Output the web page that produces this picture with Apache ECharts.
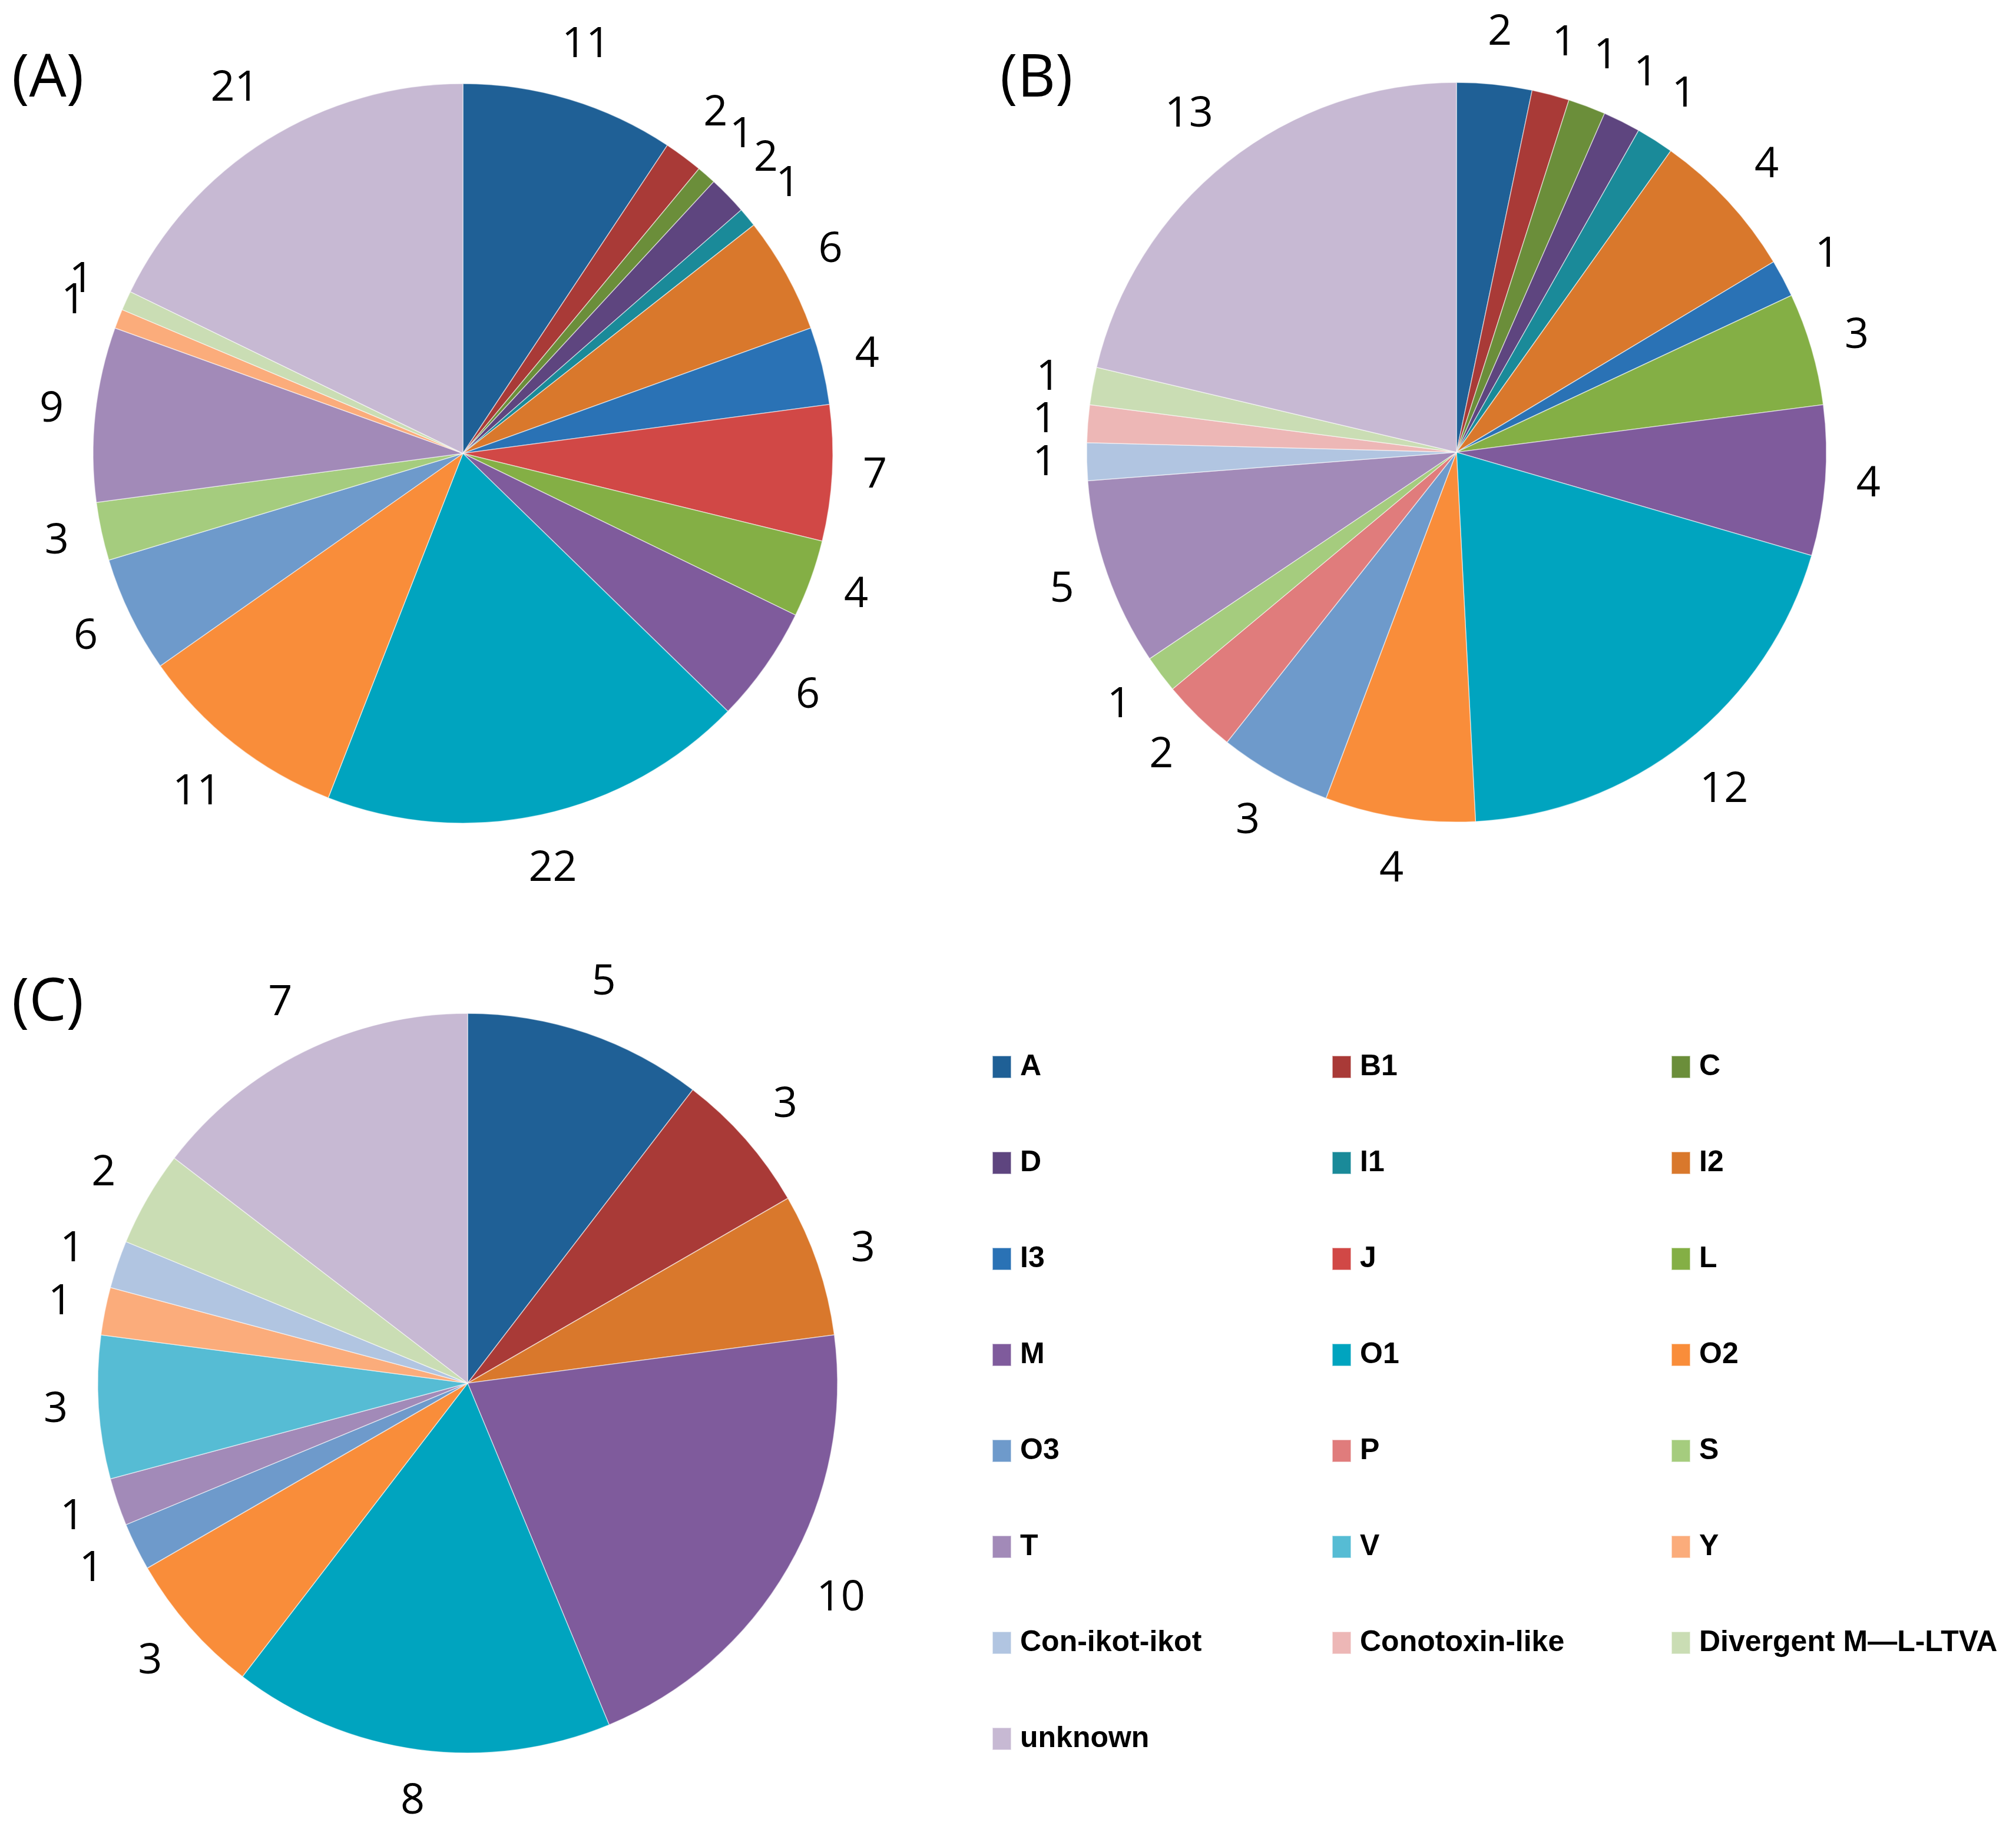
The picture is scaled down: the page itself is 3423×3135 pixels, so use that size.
<!DOCTYPE html>
<html>
<head>
<meta charset="utf-8">
<script src="https://cdn.jsdelivr.net/npm/echarts@6/dist/echarts.min.js"></script>
<style>
  html, body { margin: 0; padding: 0; background: #fff; }
  #main { width: 3423px; height: 3135px; }
</style>
</head>
<body>
<div id="main"></div>
<script>
// superfamily categories, same order in all three pies
const categories = ['A', 'B1', 'C', 'D', 'I1', 'I2', 'I3', 'J', 'L', 'M', 'O1', 'O2', 'O3',
  'P', 'S', 'T', 'V', 'Y', 'Con-ikot-ikot', 'Conotoxin-like', 'Divergent M\u2014L-LTVA', 'unknown'];
const countsA = [11, 2, 1, 2, 1, 6, 4, 7, 4, 6, 22, 11, 6, 0, 3, 9, 0, 1, 0, 0, 1, 21];
const countsB = [2, 1, 1, 1, 1, 4, 1, 0, 3, 4, 12, 4, 3, 2, 1, 5, 0, 0, 1, 1, 1, 13];
const countsC = [5, 3, 0, 0, 0, 3, 0, 0, 0, 10, 8, 3, 1, 0, 0, 1, 3, 1, 1, 0, 2, 7];
const panelTitles = ['(A)', '(B)', '(C)'];

// legend columns (row-major in the picture)
const legendCol1 = ['A', 'D', 'I3', 'M', 'O3', 'T', 'Con-ikot-ikot', 'unknown'];
const legendCol2 = ['B1', 'I1', 'J', 'O1', 'P', 'V', 'Conotoxin-like'];
const legendCol3 = ['C', 'I2', 'L', 'O2', 'S', 'Y', 'Divergent M\u2014L-LTVA'];

const palette = ['#1F6096', '#A93A37', '#6B8E3A', '#5E457F', '#1A8A99', '#D9782C', '#2A72B5',
  '#D14846', '#84AF45', '#7F5B9C', '#00A4BF', '#F98D3A', '#6E9ACB', '#E07C7C', '#A5CC7E',
  '#A28AB8', '#56BCD4', '#FBAC7B', '#B1C5E1', '#EDB7B6', '#CADDB4', '#C7B9D3'];

const R = 628;
const centers = [[786, 770], [2473, 768], [794, 2349]];
const numFont = "'Open Sans', 'Noto Sans', sans-serif";
const legendFont = "'Liberation Sans', Arial, sans-serif";

function buildData(counts) {
  return categories
    .map((name, i) => ({ name: name, value: counts[i], itemStyle: { color: palette[i] } }))
    .filter(d => d.value > 0);
}

// push each label out along its slice direction, just clear of the rim
function outerLabel(c) {
  return function (p) {
    const lr = p.labelRect;
    const mx = lr.x + lr.width / 2, my = lr.y + lr.height / 2;
    const dx = mx - c[0], dy = my - c[1];
    const d = Math.hypot(dx, dy) || 1;
    const ux = dx / d, uy = dy / d;
    const dist = R + 50 + Math.abs(ux) * lr.width / 2 + Math.abs(uy) * lr.height / 2;
    return { x: c[0] + ux * dist, y: c[1] + uy * dist, align: 'center', verticalAlign: 'middle' };
  };
}

const allCounts = [countsA, countsB, countsC];
const series = allCounts.map((counts, k) => ({
  type: 'pie',
  name: panelTitles[k],
  center: centers[k],
  radius: R,
  startAngle: 90,
  clockwise: true,
  avoidLabelOverlap: false,
  itemStyle: { borderColor: 'rgba(255,255,255,0.55)', borderWidth: 1.5 },
  label: {
    show: true,
    position: 'inside',
    formatter: '{c}',
    color: '#000',
    fontFamily: numFont,
    fontSize: 72,
    rotate: 0
  },
  labelLine: { show: false },
  labelLayout: outerLabel(centers[k]),
  emphasis: { scale: false },
  data: buildData(counts)
}));

const titlePos = [[20, 78], [1698, 78], [20, 1647]];
const title = panelTitles.map((t, k) => ({
  text: t,
  left: titlePos[k][0],
  top: titlePos[k][1],
  padding: 0,
  textStyle: { fontFamily: numFont, fontSize: 100, fontWeight: 'normal', color: '#000', lineHeight: 116 }
}));

const legendLeft = [1684, 2261, 2837];
const legend = [legendCol1, legendCol2, legendCol3].map((col, k) => ({
  orient: 'vertical',
  left: legendLeft[k],
  top: 1782,
  padding: 0,
  icon: 'rect',
  itemWidth: 32,
  itemHeight: 38,
  itemGap: 103,
  selectedMode: false,
  textStyle: {
    fontFamily: legendFont,
    fontSize: 50,
    fontWeight: 'bold',
    color: '#000',
    lineHeight: 60,
    padding: [0, 0, 0, 10]
  },
  data: col
}));

const myChart = echarts.init(document.getElementById('main'));
myChart.setOption({
  animation: false,
  backgroundColor: '#fff',
  title: title,
  legend: legend,
  series: series
});
window.onresize = function () {
  myChart.resize();
};
</script>
</body>
</html>
